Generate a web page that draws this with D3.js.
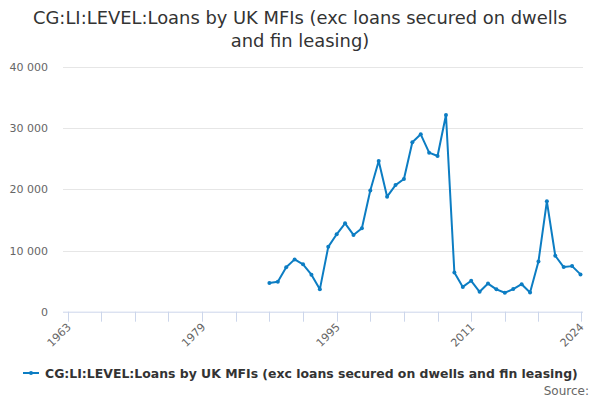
<!DOCTYPE html>
<html><head><meta charset="utf-8">
<script src="https://cdn.jsdelivr.net/npm/d3@7"></script>
<style>body{margin:0;background:#fff}svg{display:block;font-family:"DejaVu Sans",sans-serif}</style>
</head><body><svg id="c" width="600" height="400"></svg>
<script>
const years = [1987,1988,1989,1990,1991,1992,1993,1994,1995,1996,1997,1998,1999,2000,2001,2002,2003,2004,2005,2006,2007,2008,2009,2010,2011,2012,2013,2014,2015,2016,2017,2018,2019,2020,2021,2022,2023,2024];
const values = [4700,4900,7250,8550,7750,6050,3650,10600,12650,14450,12550,13650,19800,24650,18800,20700,21700,27700,29000,26000,25450,32150,6400,4050,5050,3250,4600,3650,3100,3700,4500,3150,8200,18050,9150,7300,7450,6100];
const yTicks = [0,10000,20000,30000,40000];
const xTickYears = [1963,1967,1971,1975,1979,1983,1987,1991,1995,1999,2003,2007,2011,2015,2019,2024];
const xLabelYears = [1963,1979,1995,2011,2024];
const titleLines = ["CG:LI:LEVEL:Loans by UK MFIs (exc loans secured on dwells","and fin leasing)"];
const legendText = "CG:LI:LEVEL:Loans by UK MFIs (exc loans secured on dwells and fin leasing)";
const color = "#0c7dc3";

const svg = d3.select("#c");
const plotL = 63, plotR = 583, plotT = 67, plotB = 311.7;
const x = d3.scaleLinear().domain([1963,2024]).range([67.6,580.5]);
const y = d3.scaleLinear().domain([0,40000]).range([plotB,plotT]);
const fmt = v => d3.format(",")(v).replace(/,/g," ");

svg.append("g").selectAll("text").data(titleLines).join("text")
  .attr("x",300).attr("y",(d,i)=>24+i*23).attr("text-anchor","middle")
  .attr("font-size",17.9).attr("fill","#333").text(d=>d);

// grid
svg.append("g").selectAll("line").data(yTicks.slice(1)).join("line")
  .attr("x1",plotL).attr("x2",plotR).attr("y1",d=>Math.round(y(d))+0.5).attr("y2",d=>Math.round(y(d))+0.5)
  .attr("stroke","#e6e6e6").attr("stroke-width",1);
svg.append("g").selectAll("text").data(yTicks).join("text")
  .attr("x",48).attr("y",d=>y(d)+4).attr("text-anchor","end")
  .attr("font-size",11).attr("fill","#666").text(fmt);

// x axis
svg.append("line").attr("x1",plotL).attr("x2",plotR).attr("y1",plotB+0.5).attr("y2",plotB+0.5).attr("stroke","#ccd6eb");
svg.append("g").selectAll("line").data(xTickYears).join("line")
  .attr("x1",d=>Math.round(x(d))+0.5).attr("x2",d=>Math.round(x(d))+0.5)
  .attr("y1",plotB).attr("y2",plotB+10).attr("stroke","#ccd6eb");
svg.append("g").selectAll("text").data(xLabelYears).join("text")
  .attr("transform",d=>`translate(${x(d)+4},${plotB+16}) rotate(-45)`)
  .attr("text-anchor","end").attr("font-size",11).attr("fill","#666").text(d=>d);

// line
const line = d3.line().x((d,i)=>x(years[i])).y(d=>y(d));
svg.append("path").datum(values).attr("d",line).attr("fill","none")
  .attr("stroke",color).attr("stroke-width",2).attr("stroke-linejoin","round");
svg.append("g").selectAll("circle").data(values).join("circle")
  .attr("cx",(d,i)=>x(years[i])).attr("cy",d=>y(d)).attr("r",2).attr("fill",color);

// legend
svg.append("line").attr("x1",23).attr("x2",39).attr("y1",373).attr("y2",373).attr("stroke",color).attr("stroke-width",2);
svg.append("circle").attr("cx",31).attr("cy",373).attr("r",2).attr("fill",color);
svg.append("text").attr("x",45).attr("y",377.5).attr("font-size",12.45).attr("font-weight","bold").attr("fill","#333").text(legendText);
svg.append("text").attr("x",589).attr("y",395).attr("text-anchor","end").attr("font-size",12).attr("fill","#666").text("Source:");
</script></body></html>
